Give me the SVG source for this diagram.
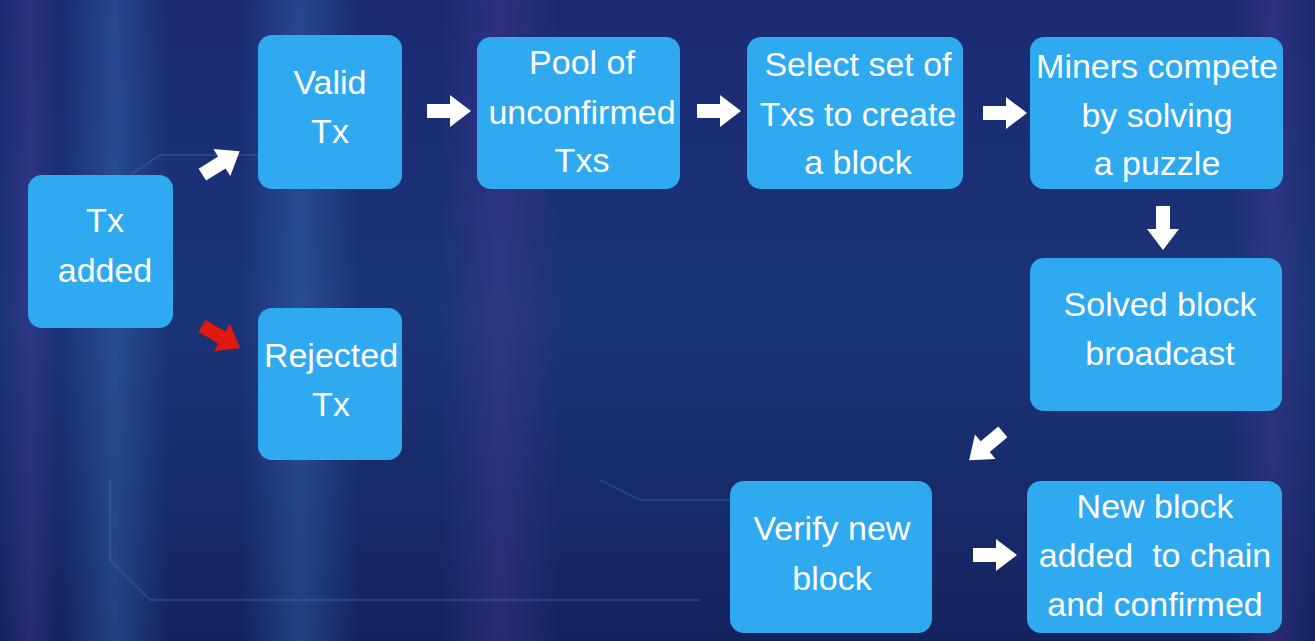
<svg xmlns="http://www.w3.org/2000/svg" width="1315" height="641" viewBox="0 0 1315 641">
<defs>
<linearGradient id="bg" x1="0" y1="0" x2="0" y2="1">
<stop offset="0" stop-color="#1a2a72"/>
<stop offset="0.5" stop-color="#1b3478"/>
<stop offset="1" stop-color="#14235e"/>
</linearGradient>
<linearGradient id="band" x1="0" y1="0" x2="1" y2="0">
<stop offset="0" stop-color="#3f7bc4" stop-opacity="0"/>
<stop offset="0.5" stop-color="#3f7bc4" stop-opacity="0.35"/>
<stop offset="1" stop-color="#3f7bc4" stop-opacity="0"/>
</linearGradient>
<linearGradient id="bandP" x1="0" y1="0" x2="1" y2="0">
<stop offset="0" stop-color="#5a3fa0" stop-opacity="0"/>
<stop offset="0.5" stop-color="#5a3fa0" stop-opacity="0.3"/>
<stop offset="1" stop-color="#5a3fa0" stop-opacity="0"/>
</linearGradient>
<path id="arr" d="M-22,-7 L1,-7 L1,-16 L22,0 L1,16 L1,7 L-22,7 Z"/>
</defs>
<style>
.box{fill:#2fa9ef}
.t{font-family:"Liberation Sans",Arial,sans-serif;font-size:34px;fill:#ffffff;text-anchor:middle}
.w{fill:#ffffff}
.r{fill:#e0190f}
.deco{fill:none;stroke:#4d78c8;stroke-opacity:0.3;stroke-width:2}
</style>
<rect width="1315" height="641" fill="url(#bg)"/>
<rect x="0" y="0" width="60" height="641" fill="url(#bandP)"/>
<rect x="60" y="0" width="110" height="641" fill="url(#band)"/>
<rect x="240" y="0" width="120" height="641" fill="url(#band)"/>
<rect x="440" y="0" width="120" height="641" fill="url(#bandP)"/>
<rect x="1230" y="0" width="85" height="641" fill="url(#bandP)"/>
<g id="decor">
<path class="deco" d="M130,175 L160,155 L258,155"/>
<path class="deco" d="M110,480 L110,560 L150,600 L700,600"/>
<path class="deco" d="M600,480 L640,500 L740,500"/>
</g>
<g id="connectors">
<use href="#arr" class="w" transform="translate(221,163) rotate(-32)"/>
<use href="#arr" class="r" transform="translate(221,337) rotate(30)"/>
<use href="#arr" class="w" transform="translate(449,111)"/>
<use href="#arr" class="w" transform="translate(719,111)"/>
<use href="#arr" class="w" transform="translate(1005,113)"/>
<use href="#arr" class="w" transform="translate(1163,228) rotate(90)"/>
<use href="#arr" class="w" transform="translate(986,446) rotate(140)"/>
<use href="#arr" class="w" transform="translate(995,555)"/>
</g>
<g id="n-txadded"><rect class="box" x="28" y="175" width="145" height="153" rx="14"/><text class="t" x="105" y="232">Tx</text><text class="t" x="105" y="282">added</text></g>
<g id="n-valid"><rect class="box" x="258" y="35" width="144" height="154" rx="14"/><text class="t" x="330" y="94">Valid</text><text class="t" x="330" y="143">Tx</text></g>
<g id="n-rejected"><rect class="box" x="258" y="308" width="144" height="152" rx="14"/><text class="t" x="331" y="367">Rejected</text><text class="t" x="331" y="416">Tx</text></g>
<g id="n-pool"><rect class="box" x="477" y="37" width="203" height="152" rx="14"/><text class="t" x="582" y="74">Pool of</text><text class="t" x="582" y="124">unconfirmed</text><text class="t" x="582" y="172">Txs</text></g>
<g id="n-select"><rect class="box" x="747" y="37" width="216" height="152" rx="14"/><text class="t" x="858" y="76">Select set of</text><text class="t" x="858" y="126">Txs to create</text><text class="t" x="858" y="174">a block</text></g>
<g id="n-miners"><rect class="box" x="1030" y="37" width="253" height="152" rx="14"/><text class="t" x="1157" y="78">Miners compete</text><text class="t" x="1157" y="127">by solving</text><text class="t" x="1157" y="175">a puzzle</text></g>
<g id="n-solved"><rect class="box" x="1030" y="258" width="252" height="153" rx="14"/><text class="t" x="1160" y="316">Solved block</text><text class="t" x="1160" y="365">broadcast</text></g>
<g id="n-verify"><rect class="box" x="730" y="481" width="202" height="152" rx="14"/><text class="t" x="832" y="540">Verify new</text><text class="t" x="832" y="590">block</text></g>
<g id="n-newblock"><rect class="box" x="1027" y="481" width="255" height="152" rx="14"/><text class="t" x="1155" y="518">New block</text><text class="t" x="1155" y="567" xml:space="preserve">added  to chain</text><text class="t" x="1155" y="616">and confirmed</text></g>
</svg>
